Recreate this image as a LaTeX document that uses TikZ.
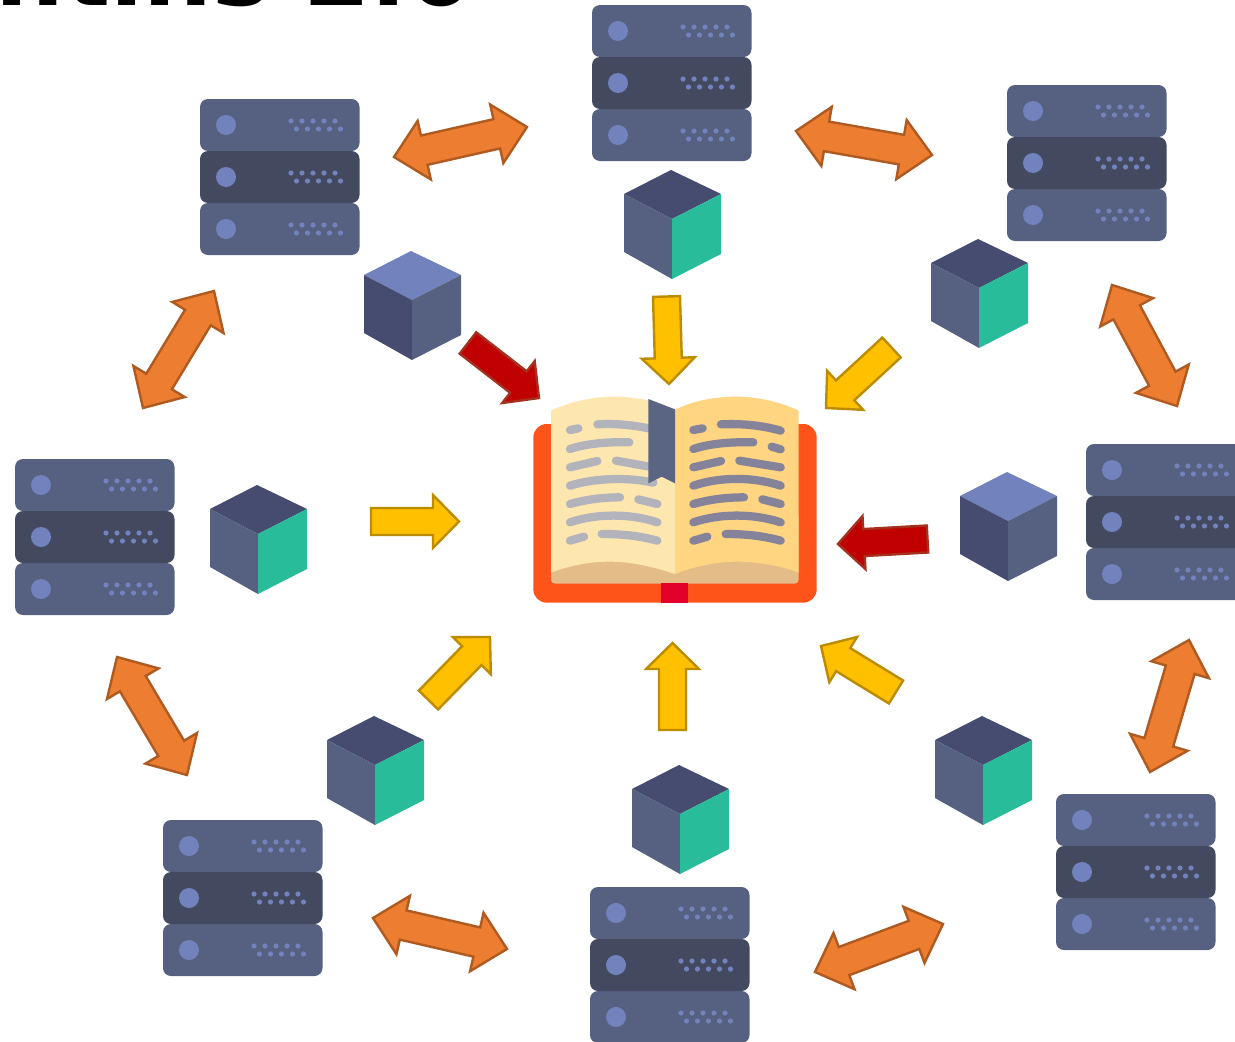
\documentclass[tikz,border=0pt]{standalone}
\usepackage{fontspec}
\setmainfont{DejaVu Sans}
\definecolor{slatelight}{HTML}{566181}
\definecolor{slatedark}{HTML}{434A60}
\definecolor{slateblue}{HTML}{7282BD}
\definecolor{cubedark}{HTML}{454C70}
\definecolor{cubegreen}{HTML}{28BC9B}
\definecolor{orangefill}{HTML}{ED7D31}
\definecolor{orangeline}{HTML}{AE5A21}
\definecolor{yellowfill}{HTML}{FFC000}
\definecolor{yellowline}{HTML}{BC8C00}
\definecolor{redfill}{HTML}{C00000}
\definecolor{redline}{HTML}{A5301E}
\definecolor{coverc}{HTML}{FF5419}
\definecolor{tabc}{HTML}{E3002A}
\definecolor{pageleft}{HTML}{FEE7AE}
\definecolor{pageright}{HTML}{FFD581}
\definecolor{pagebase}{HTML}{E4BC87}
\definecolor{markc}{HTML}{5A6483}
\definecolor{inkleft}{HTML}{B3B3BB}
\definecolor{inkright}{HTML}{85839A}
\tikzset{
  x=0.75pt,y=-0.75pt,
  orangearrow/.style={fill=orangefill,draw=orangeline,line width=1.8pt,line join=miter},
  yellowarrow/.style={fill=yellowfill,draw=yellowline,line width=1.8pt,line join=miter},
  redarrow/.style={fill=redfill,draw=redline,line width=1.8pt,line join=miter},
  inkline/.style={line width=6.2pt,line cap=round},
  pics/serverrow/.style={code={
    \fill[rounded corners=6pt,fill=#1] (0,0) rectangle (159.5,52);
    \fill[slateblue] (26,26) circle[radius=10];
    \foreach \k in {0,...,4}{
      \fill[slateblue] ({91+11*\k},22) circle[radius=2.6];
      \fill[slateblue] ({96.5+11*\k},30) circle[radius=2.6];
    }
  }},
  pics/serverstack/.style={code={
    \pic at (0,0) {serverrow=slatelight};
    \pic at (0,104) {serverrow=slatelight};
    \pic at (0,52) {serverrow=slatedark};
  }},
  pics/cube/.style n args={3}{code={
    \fill[#1] (47,0) -- (97,24) -- (48,49) -- (0,24) -- cycle;
    \fill[#2] (0,24) -- (48,49) -- (48,109) -- (0,82) -- cycle;
    \fill[#3] (48,49) -- (97,24) -- (97,84) -- (48,109) -- cycle;
  }}
}
\newcommand\unitframe[4]{%
  \pgfmathsetmacro\arrlen{veclen(#3-#1,#4-#2)}%
  \pgfmathsetmacro\xxa{0.75*(#3-#1)/\arrlen}%
  \pgfmathsetmacro\xxb{-0.75*(#4-#2)/\arrlen}%
  \pgfmathsetmacro\yya{-0.75*(#4-#2)/\arrlen}%
  \pgfmathsetmacro\yyb{-0.75*(#3-#1)/\arrlen}%
}
\newcommand\twoway[4]{%
  \unitframe{#1}{#2}{#3}{#4}%
  \begin{scope}[shift={(#1,#2)},x={(\xxa pt,\xxb pt)},y={(\yya pt,\yyb pt)}]
    \draw[orangearrow] (0,0) -- (31,30) -- (31,15) -- (\arrlen-31,15) -- (\arrlen-31,30) -- (\arrlen,0)
      -- (\arrlen-31,-30) -- (\arrlen-31,-15) -- (31,-15) -- (31,-30) -- cycle;
  \end{scope}%
}
\newcommand\oneway[5]{%
  \unitframe{#2}{#3}{#4}{#5}%
  \begin{scope}[shift={(#2,#3)},x={(\xxa pt,\xxb pt)},y={(\yya pt,\yyb pt)}]
    \draw[#1] (0,-13.5) -- (\arrlen-26,-13.5) -- (\arrlen-26,-26.5) -- (\arrlen,0)
      -- (\arrlen-26,26.5) -- (\arrlen-26,13.5) -- (0,13.5) -- cycle;
  \end{scope}%
}
\begin{document}
\begin{tikzpicture}
\fill[white] (0,0) rectangle (1235,1042);
\useasboundingbox (0,0) rectangle (1235,1042);
\clip (0,0) rectangle (1235,1042);

\node[anchor=base west,inner sep=0pt,font=\fontsize{72.5pt}{80pt}\selectfont\bfseries] (title) at (-5,5) {ntins 2.0};

% servers
\pic (s1) at (592,5) {serverstack};
\pic (s2) at (200,99) {serverstack};
\pic (s3) at (1007,85) {serverstack};
\pic (s4) at (15,459) {serverstack};
\pic (s5) at (1086,444) {serverstack};
\pic (s6) at (163,820) {serverstack};
\pic (s7) at (590,887) {serverstack};
\pic (s8) at (1056,794) {serverstack};

% cubes
\pic (c1) at (624,170) {cube={cubedark}{slatelight}{cubegreen}};
\pic (c2) at (931,239) {cube={cubedark}{slatelight}{cubegreen}};
\pic (c3) at (210,485) {cube={cubedark}{slatelight}{cubegreen}};
\pic (c4) at (327,716) {cube={cubedark}{slatelight}{cubegreen}};
\pic (c5) at (632,765) {cube={cubedark}{slatelight}{cubegreen}};
\pic (c6) at (935,716) {cube={cubedark}{slatelight}{cubegreen}};
\pic (c7) at (364,251) {cube={slateblue}{cubedark}{slatelight}};
\pic (c8) at (960,472) {cube={slateblue}{cubedark}{slatelight}};

% two-way arrows
\twoway{394}{157}{527}{127}
\twoway{796}{131}{932}{155}
\twoway{1112}{285}{1177}{406}
\twoway{1189}{640}{1150}{772}
\twoway{943}{924}{815}{972}
\twoway{373}{918}{507}{949}
\twoway{117}{657}{187}{775}
\twoway{214}{291}{143}{408}

% one-way arrows
\oneway{yellowarrow}{371}{521.5}{459}{521.5}
\oneway{yellowarrow}{666.5}{296.5}{669}{384}
\oneway{yellowarrow}{891.5}{347.5}{826}{408}
\oneway{redarrow}{927.5}{539}{838}{544}
\oneway{yellowarrow}{896}{692}{821}{646}
\oneway{yellowarrow}{672.5}{730}{672.5}{643}
\oneway{yellowarrow}{428.5}{700}{490}{637}
\oneway{redarrow}{468}{343}{539}{398}

% book (coordinates on a 3x grid)
\begin{scope}[shift={(520,380)},x=0.25pt,y=-0.25pt]
  \fill[coverc,rounded corners=10pt] (40,132) rectangle (890,668);
  \fill[pagebase,rounded corners=3pt] (93,400) rectangle (836,611);
  \fill[tabc] (424,610) rectangle (505,668);
  \fill[pageleft] (93,92) .. controls (150,65) and (220,50) .. (280,50)
     .. controls (350,50) and (420,65) .. (465,90) -- (465,582)
     .. controls (400,560) and (330,545) .. (270,545)
     .. controls (200,545) and (140,560) .. (93,578) -- cycle;
  \fill[pageright] (465,90) .. controls (510,65) and (580,50) .. (650,50)
     .. controls (710,50) and (780,65) .. (836,92) -- (836,578)
     .. controls (790,560) and (720,545) .. (650,545)
     .. controls (590,545) and (520,560) .. (465,582) -- cycle;
  \begin{scope}[inkline,draw=inkleft]
    \draw (150,150) -- (175,145);
    \draw (232,133) .. controls (290,130) and (340,135) .. (400,148);
    \draw (150,207) .. controls (200,190) and (270,185) .. (328,187);
    \draw (150,262) -- (232,243);
    \draw (288,242) -- (400,262);
    \draw (150,317) .. controls (220,295) and (320,290) .. (400,308);
    \draw (150,372) .. controls (200,358) and (250,352) .. (300,352);
    \draw (355,358) -- (412,372);
    \draw (150,427) .. controls (230,400) and (330,400) .. (412,427);
    \draw (150,482) -- (192,470);
    \draw (245,462) .. controls (310,462) and (360,468) .. (412,482);
  \end{scope}
  \begin{scope}[inkline,draw=inkright]
    \draw (520,150) -- (548,145);
    \draw (603,133) .. controls (670,130) and (730,137) .. (782,152);
    \draw (520,207) .. controls (570,190) and (640,185) .. (700,187);
    \draw (755,200) -- (782,208);
    \draw (520,262) -- (603,243);
    \draw (658,242) -- (782,262);
    \draw (520,317) .. controls (600,290) and (700,290) .. (782,317);
    \draw (520,372) .. controls (570,358) and (620,352) .. (672,352);
    \draw (727,358) -- (782,372);
    \draw (520,427) .. controls (600,400) and (700,400) .. (782,427);
    \draw (520,482) -- (562,470);
    \draw (617,462) .. controls (680,462) and (730,468) .. (782,482);
  \end{scope}
  \fill[markc] (385,57) -- (465,88) -- (465,310) -- (425,290) -- (385,310) -- cycle;
\end{scope}
\end{tikzpicture}
\end{document}
